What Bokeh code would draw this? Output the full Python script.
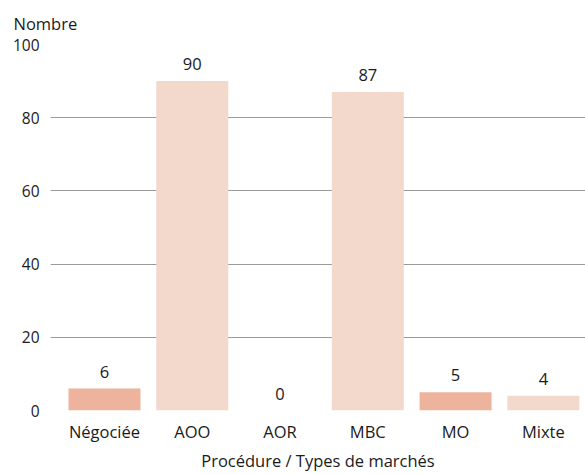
from bokeh.plotting import figure
from bokeh.models import ColumnDataSource, FixedTicker, LabelSet, Range1d
from bokeh.core.properties import value
from bokeh.embed import file_html
from bokeh.resources import INLINE

categories = ["Négociée", "AOO", "AOR", "MBC", "MO", "Mixte"]
values = [6, 90, 0, 87, 5, 4]
colors = ["#EEB39C", "#F3D8CC", "#F3D8CC", "#F3D8CC", "#EEB39C", "#F3D8CC"]
y_ticks = [0, 20, 40, 60, 80, 100]

FONT = "Open Sans"
TXT = "#1a1a1a"
FS = "16.5px"

xs = list(range(len(categories)))
src = ColumnDataSource(dict(x=xs, top=values, color=colors,
                            label=[str(v) for v in values]))

p = figure(width=585, height=474, output_backend="svg", toolbar_location=None,
           x_range=Range1d(-0.615, 5.48), y_range=Range1d(0, 100),
           min_border_left=50, min_border_right=0, min_border_top=44,
           min_border_bottom=63)
p.outline_line_color = None
p.background_fill_color = "white"
p.border_fill_color = "white"

p.title.text = "Nombre"
p.title.align = "left"
p.title.offset = -37
p.title.text_font = FONT
p.title.text_font_size = FS
p.title.text_font_style = "normal"
p.title.text_color = TXT
p.title.standoff = 16
p.title.vertical_align = "top"

p.vbar(x="x", top="top", bottom=0, width=0.82, fill_color="color",
       line_color=None, source=src)

labels = LabelSet(x="x", y="top", text="label", source=src, y_offset=17,
                  text_align="center", text_baseline="middle",
                  text_font=value(FONT), text_font_size=value(FS),
                  text_color=TXT)
p.add_layout(labels)

p.xaxis.ticker = FixedTicker(ticks=xs)
p.xaxis.major_label_overrides = {i: c for i, c in enumerate(categories)}
p.xaxis.axis_line_color = None
p.xaxis.major_tick_line_color = None
p.xaxis.minor_tick_line_color = None
p.xaxis.major_label_standoff = 3
p.xaxis.major_label_text_font = FONT
p.xaxis.major_label_text_font_size = FS
p.xaxis.major_label_text_color = TXT
p.xaxis.axis_label = "Procédure / Types de marchés"
p.xaxis.axis_label_text_font = FONT
p.xaxis.axis_label_text_font_size = FS
p.xaxis.axis_label_text_font_style = "normal"
p.xaxis.axis_label_text_color = TXT
p.xaxis.axis_label_standoff = 3

p.yaxis.ticker = FixedTicker(ticks=y_ticks)
p.yaxis.axis_line_color = None
p.yaxis.major_tick_line_color = None
p.yaxis.minor_tick_line_color = None
p.yaxis.major_label_standoff = 5
p.yaxis.major_label_text_font = FONT
p.yaxis.major_label_text_font_size = "15.5px"
p.yaxis.major_label_text_color = TXT

p.xgrid.grid_line_color = None
p.ygrid.grid_line_color = "#9a9a9a"
p.ygrid.grid_line_width = 1
p.ygrid.level = "underlay"

open("out.html", "w").write(file_html(p, INLINE))
